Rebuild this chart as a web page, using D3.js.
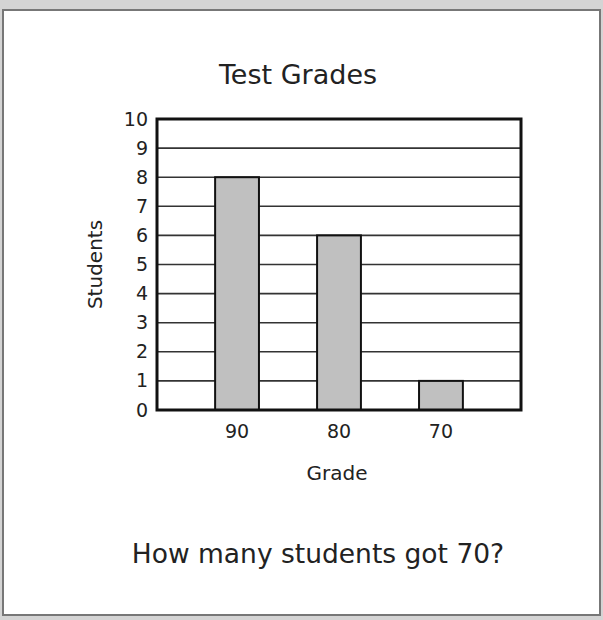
<!DOCTYPE html>
<html>
<head>
<meta charset="utf-8">
<script src="https://cdn.jsdelivr.net/npm/d3@7"></script>
<style>
  body { margin: 0; background: #d4d4d4; }
  svg { display: block; }
  text { font-family: "DejaVu Sans", sans-serif; fill: #222; }
</style>
</head>
<body>
<div id="chart"></div>
<script>
var grades = ['90', '80', '70'];
var students = [8, 6, 1];
var yTicks = [0, 1, 2, 3, 4, 5, 6, 7, 8, 9, 10];

var width = 603, height = 620;
var plot = {left: 157, top: 119, right: 521, bottom: 410};

var svg = d3.select('#chart').append('svg')
    .attr('width', width)
    .attr('height', height);

// page panel
svg.append('rect')
    .attr('x', 3).attr('y', 10)
    .attr('width', 597).attr('height', 605)
    .attr('fill', '#fff')
    .attr('stroke', '#777')
    .attr('stroke-width', 2);

var x = d3.scaleBand()
    .domain(grades)
    .range([plot.left, plot.right])
    .padding(0.57);

var y = d3.scaleLinear()
    .domain([0, 10])
    .range([plot.bottom, plot.top]);

// grid lines
svg.append('g')
    .selectAll('line')
    .data(yTicks.slice(1, -1))
    .enter()
    .append('line')
    .attr('x1', plot.left).attr('x2', plot.right)
    .attr('y1', function(d) { return y(d); })
    .attr('y2', function(d) { return y(d); })
    .attr('stroke', '#333')
    .attr('stroke-width', 1.6);

// bars
svg.append('g')
    .selectAll('rect')
    .data(students)
    .enter()
    .append('rect')
    .attr('x', function(d, i) { return x(grades[i]); })
    .attr('y', function(d) { return y(d); })
    .attr('width', x.bandwidth())
    .attr('height', function(d) { return y(0) - y(d); })
    .attr('fill', '#c0c0c0')
    .attr('stroke', '#111')
    .attr('stroke-width', 2);

// frame
svg.append('rect')
    .attr('x', plot.left).attr('y', plot.top)
    .attr('width', plot.right - plot.left)
    .attr('height', plot.bottom - plot.top)
    .attr('fill', 'none')
    .attr('stroke', '#111')
    .attr('stroke-width', 3);

// y axis
var yAxis = svg.append('g')
    .attr('transform', 'translate(' + plot.left + ',0)')
    .call(d3.axisLeft(y).tickValues(yTicks).tickSize(0).tickPadding(9));
yAxis.select('.domain').remove();
yAxis.selectAll('text')
    .style('font-size', '19px')
    .attr('fill', '#333');

// x axis
var xAxis = svg.append('g')
    .attr('transform', 'translate(0,' + plot.bottom + ')')
    .call(d3.axisBottom(x).tickSize(0).tickPadding(15));
xAxis.select('.domain').remove();
xAxis.selectAll('text')
    .style('font-size', '19px')
    .attr('fill', '#333');

svg.append('text')
    .attr('x', 298).attr('y', 84)
    .attr('text-anchor', 'middle')
    .style('font-size', '27px')
    .text('Test Grades');

svg.append('text')
    .attr('x', 337).attr('y', 480)
    .attr('text-anchor', 'middle')
    .style('font-size', '20px')
    .text('Grade');

svg.append('text')
    .attr('transform', 'translate(102,' + ((plot.top + plot.bottom) / 2) + ') rotate(-90)')
    .attr('text-anchor', 'middle')
    .style('font-size', '20px')
    .text('Students');

svg.append('text')
    .attr('x', 318).attr('y', 563)
    .attr('text-anchor', 'middle')
    .style('font-size', '26.5px')
    .text('How many students got 70?');
</script>
</body>
</html>
